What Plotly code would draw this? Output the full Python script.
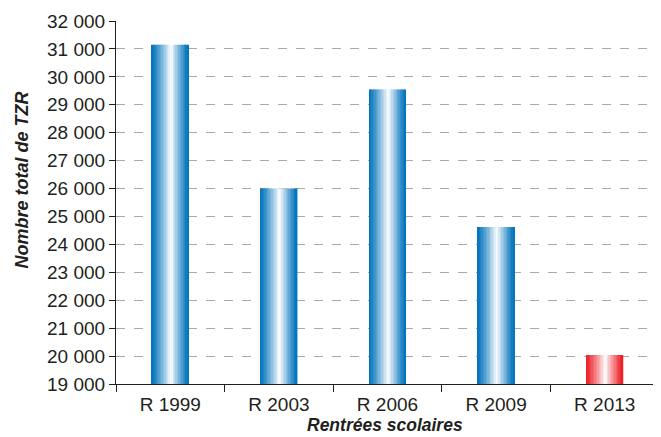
import plotly.graph_objects as go

categories = ["R 1999", "R 2003", "R 2006", "R 2009", "R 2013"]
values = [31150, 26000, 29550, 24620, 20040]
bar_kind = ["blue", "blue", "blue", "blue", "red"]

EDGE = {"blue": (0, 114, 188), "red": (237, 28, 36)}
N = 26
BAR_W = 0.34
WHITE_AT = 0.53


def shade(rgb, t):
    # t in [0,1], 0 = edge colour, 1 = white
    r, g, b = rgb
    return "rgb(%d,%d,%d)" % (r + (255 - r) * t, g + (255 - g) * t, b + (255 - b) * t)


fig = go.Figure()
for i in range(N):
    pos = (i + 0.5) / N  # 0..1 across bar
    if pos < WHITE_AT:
        d = (WHITE_AT - pos) / WHITE_AT
    else:
        d = (pos - WHITE_AT) / (1 - WHITE_AT)
    t = (1 - d) ** 1.2
    colors = [shade(EDGE[k], t) for k in bar_kind]
    fig.add_trace(go.Bar(
        x=categories, y=values,
        width=BAR_W / N * 1.05,
        offset=-BAR_W / 2 + i * BAR_W / N,
        marker=dict(color=colors, line=dict(width=0)),
        showlegend=False, hoverinfo="skip",
    ))

fig.add_annotation(
    text="<b><i>Nombre total de TZR</i></b>", textangle=-90,
    xref="paper", yref="paper", x=-0.174, y=0.562,
    xanchor="center", yanchor="middle", showarrow=False,
    font=dict(size=18),
)
fig.add_annotation(
    text="<b><i>Rentrées scolaires</i></b>",
    xref="paper", yref="paper", x=0.495, y=-0.144,
    xanchor="center", yanchor="bottom", showarrow=False,
    font=dict(size=17.5), borderpad=0,
)

fig.update_layout(
    width=653, height=429,
    margin=dict(l=108, r=2, t=13, b=53),
    paper_bgcolor="white", plot_bgcolor="white",
    barmode="overlay",
    separators=", ",
    font=dict(family="Liberation Sans, Arial, sans-serif", color="#231f20", size=19),
    xaxis=dict(
        showline=True, linecolor="#231f20", linewidth=1.2,
        ticks="outside", tickson="boundaries", ticklen=7, tickcolor="#231f20",
        tickfont=dict(size=19), ticklabelstandoff=3,
        automargin=False,
    ),
    yaxis=dict(
        range=[19000, 32000], dtick=1000, tick0=19000,
        tickformat=",d",
        showline=True, linecolor="#231f20", linewidth=1.2,
        ticks="outside", ticklen=6, tickcolor="#231f20",
        showgrid=True, gridcolor="#a7a9ac", griddash="dash", gridwidth=1,
        zeroline=False,
        tickfont=dict(size=19),
        automargin=False,
    ),
)

fig.write_html("out.html")
